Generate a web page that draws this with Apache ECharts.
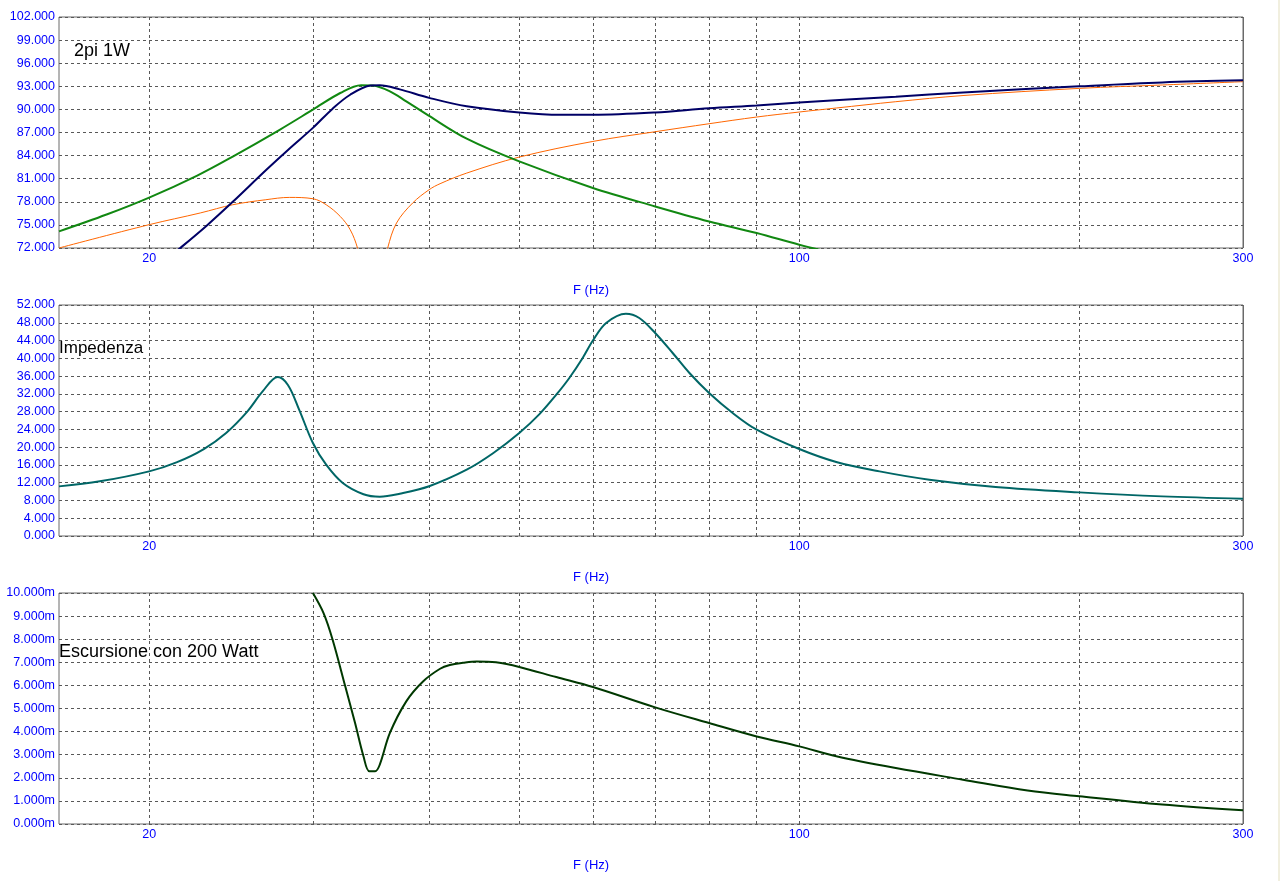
<!DOCTYPE html>
<html><head><meta charset="utf-8">
<script src="https://cdn.jsdelivr.net/npm/echarts@6/dist/echarts.min.js"></script>
<style>html,body{margin:0;padding:0;background:#fff;}#c{width:1280px;height:881px;}</style>
</head><body><div id="c"></div>
<script>
// ---- data (frequency in Hz) ----
const freqTotal = [20, 21.6, 23.06, 24.6, 26.7, 28.3, 30, 31.5, 32.9, 34.6, 35.4, 37.2, 40, 43.9, 50, 55.3, 60, 70, 80, 90, 100, 127, 150, 200, 245.6, 300];
const splTotal  = [68.7, 72.0, 74.9, 78.0, 82.1, 84.9, 87.6, 90.1, 91.9, 93.1, 93.15, 92.6, 91.5, 90.4, 89.6, 89.3, 89.3, 89.6, 90.15, 90.5, 90.9, 91.65, 92.2, 93.0, 93.5, 93.77];

const freqGreen = [16, 18, 20, 22.5, 24.6, 27.6, 30, 32.1, 33.8, 34.8, 36.3, 37.8, 40, 43.9, 50, 60, 70, 80, 90, 100, 110];
const splGreen  = [74.16, 76.35, 78.55, 81.38, 83.88, 87.32, 89.97, 92.13, 93.15, 93.1, 92.34, 91.04, 89.15, 86.2, 83.25, 79.8, 77.4, 75.45, 73.95, 72.43, 71.2];

const freqOrange = [16, 20, 22.7, 24.6, 26.7, 28.3, 30, 31.0, 32.1, 32.9, 33.5, 34.0, 34.8, 35.6, 36.1, 36.9, 38.4, 40, 41.1, 43.9, 50, 60, 70, 80, 90, 100, 109.6, 127, 150, 200, 245.6, 300];
const splOrange  = [72.0, 75.03, 76.55, 77.62, 78.27, 78.57, 78.4, 77.62, 76.1, 74.38, 72.0, 68.5, 62, 68.5, 72.0, 75.25, 77.84, 79.57, 80.35, 81.73, 83.81, 85.84, 87.1, 88.14, 89.01, 89.66, 90.18, 91.0, 91.8, 92.73, 93.17, 93.6];

const freqImp = [16, 17.7, 20, 21.4, 22.9, 24.2, 25.5, 26.5, 27.5, 28.2, 29.0, 30, 31.0, 32.3, 34.0, 35.4, 37.2, 40, 43.9, 46.9, 50, 52.6, 54.8, 56.6, 58.5, 60, 62.0, 65.1, 67.3, 70, 73.1, 76.2, 80, 84.8, 90, 100, 109.6, 122, 138, 162.6, 200, 245.6, 300];
const impedance = [11.17, 12.3, 14.55, 16.57, 19.58, 23.19, 28.0, 32.6, 35.8, 34.0, 28.4, 20.93, 16.05, 11.93, 9.4, 8.85, 9.52, 11.2, 14.92, 18.68, 23.19, 27.5, 31.8, 35.57, 40.07, 44.0, 47.95, 50.04, 49.07, 45.7, 41.2, 36.69, 32.19, 27.69, 23.93, 19.58, 16.66, 14.55, 12.67, 11.03, 9.82, 8.92, 8.4];

const freqExc = [30, 30.8, 31.5, 32.5, 33.3, 34.0, 34.5, 35.0, 35.4, 36.3, 37.8, 39.4, 41.1, 42.1, 43.5, 45.0, 47.2, 50, 54.8, 60, 70, 80, 90, 100, 109.6, 127, 150, 176, 200, 245.6, 300];
const excursion = [10.0, 9.13, 7.98, 5.96, 4.37, 2.93, 2.28, 2.28, 2.57, 3.94, 5.31, 6.17, 6.72, 6.88, 6.98, 7.04, 7.0, 6.8, 6.36, 5.93, 5.05, 4.37, 3.79, 3.36, 2.93, 2.42, 1.92, 1.45, 1.2, 0.84, 0.59];

// ---- axis ticks ----
const gridFreqs = [20, 30, 40, 50, 60, 70, 80, 90, 100, 200];
const labelFreqs = [20, 100, 300];
const panelTitles = ['2pi 1W', 'Impedenza', 'Escursione con 200 Watt'];
const xAxisTitle = 'F (Hz)';

const FONT = "'Liberation Sans', Arial, sans-serif";
const BLUE = '#0000ff';
const BORDER = '#6a6a6a';
const zip = (xs, ys) => xs.map((x, i) => [x, ys[i]]);

const panelTops = [17, 305, 593];
const panelH = 231;

const grids = panelTops.map(t => ({
  left: 59, right: 37, top: t, height: panelH,
  show: true, backgroundColor: '#ffffff', borderColor: BORDER, borderWidth: 1
}));

const xAxes = panelTops.map((t, i) => ({
  type: 'log', logBase: 10, gridIndex: i, min: 16, max: 300,
  axisLine: { show: false }, axisTick: { show: false },
  axisLabel: { show: false }, splitLine: { show: false }
}));

const yCfg = [
  { min: 72, max: 102, interval: 3, fmt: v => v.toFixed(3) },
  { min: 0, max: 52, interval: 4, fmt: v => v.toFixed(3) },
  { min: 0, max: 10, interval: 1, fmt: v => v.toFixed(3) + 'm' }
];
const yAxes = yCfg.map((c, i) => ({
  type: 'value', gridIndex: i, min: c.min, max: c.max, interval: c.interval,
  axisLine: { show: false }, axisTick: { show: false },
  axisLabel: { color: BLUE, fontSize: 12.5, fontFamily: FONT, margin: 4, formatter: c.fmt },
  splitLine: { show: true, lineStyle: { color: '#585858', width: 1, type: [3, 3] } }
}));

function gridLineSeries(i) {
  const items = gridFreqs.map(f => ({
    name: String(f), xAxis: f,
    label: { show: labelFreqs.indexOf(f) >= 0 }
  }));
  labelFreqs.forEach(f => {
    if (gridFreqs.indexOf(f) < 0) {
      items.push({ name: String(f), xAxis: f, label: { show: true },
        lineStyle: { color: BORDER, type: 'solid', width: 1 } });
    }
  });
  return {
    type: 'line', xAxisIndex: i, yAxisIndex: i, data: [], silent: true,
    markLine: {
      silent: true, symbol: 'none', z: 1, animation: false,
      lineStyle: { color: '#585858', width: 1, type: [3, 3] },
      label: { position: 'start', distance: 4, formatter: '{b}', color: BLUE, fontSize: 12.5, fontFamily: FONT },
      emphasis: { disabled: true },
      data: items
    }
  };
}

function curve(xs, ys, i, color, width, z) {
  return {
    type: 'line', xAxisIndex: i, yAxisIndex: i, data: zip(xs, ys),
    showSymbol: false, symbol: 'none', smooth: 0.35, clip: true, z: z,
    lineStyle: { color: color, width: width }, silent: true
  };
}

const titles = [
  { text: panelTitles[0], left: 74, top: 42, fs: 18, color: '#000' },
  { text: panelTitles[1], left: 59, top: 340, fs: 17, color: '#000' },
  { text: panelTitles[2], left: 59, top: 643, fs: 18, color: '#000' },
  { text: xAxisTitle, left: 573, top: 284, fs: 13, color: BLUE },
  { text: xAxisTitle, left: 573, top: 571, fs: 13, color: BLUE },
  { text: xAxisTitle, left: 573, top: 859, fs: 13, color: BLUE }
].map(t => ({ text: t.text, left: t.left, top: t.top, padding: 0,
  textStyle: { fontSize: t.fs, fontWeight: 'normal', color: t.color, fontFamily: FONT } }));

const chart = echarts.init(document.getElementById('c'), null, { renderer: 'canvas' });
chart.setOption({
  animation: false,
  backgroundColor: '#ffffff',
  title: titles,
  grid: grids,
  xAxis: xAxes,
  yAxis: yAxes,
  graphic: [{ type: 'rect', shape: { x: 1278, y: 0, width: 2, height: 881 }, style: { fill: '#f1efdf' }, silent: true }],
  series: [
    gridLineSeries(0), gridLineSeries(1), gridLineSeries(2),
    curve(freqOrange, splOrange, 0, '#ff6600', 1, 3),
    curve(freqGreen, splGreen, 0, '#118811', 2, 4),
    curve(freqTotal, splTotal, 0, '#000066', 2, 5),
    curve(freqImp, impedance, 1, '#006666', 2, 3),
    curve(freqExc, excursion, 2, '#003800', 2, 3)
  ]
});
</script></body></html>
